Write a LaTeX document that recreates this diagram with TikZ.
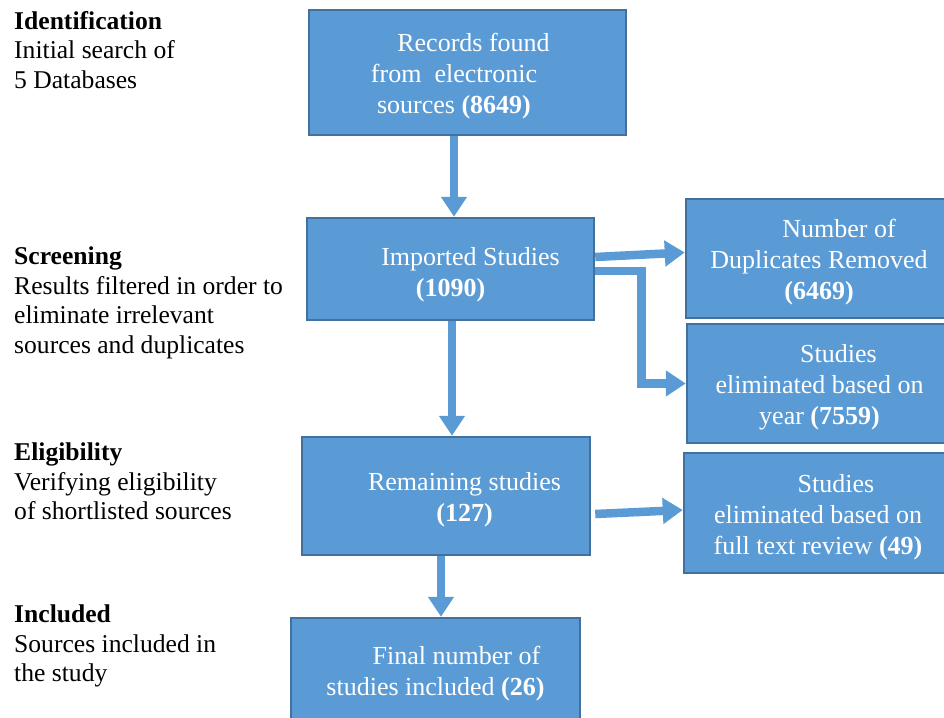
\documentclass[tikz,border=0pt]{standalone}
\usepackage{fontspec}
\setmainfont{Liberation Serif}
\usetikzlibrary{arrows.meta,calc}
\definecolor{boxfill}{HTML}{5B9BD5}
\definecolor{boxline}{HTML}{41719C}
% #1 left pad, #2 right pad, #3 extra top (moves text down by half), #4 lines
\newcommand\bxt[4]{\hspace*{#1}\raisebox{0pt}[\dimexpr\height+#3\relax][\depth]{\begin{tabular}{@{}c@{}}#4\end{tabular}}\hspace*{#2}}
\tikzset{
  box/.style={draw=boxline, line width=2.5pt, fill=boxfill, text=white,
    inner sep=0pt, font=\fontsize{26}{31}\selectfont},
  arr/.style={draw=boxfill, line width=8.5pt, -{Triangle[width=25pt,length=20pt]}},
  side/.style={anchor=north west, align=left, inner sep=0pt, font=\fontsize{25.6}{29.5}\selectfont}
}
\begin{document}
\begin{tikzpicture}[x=1pt,y=-1pt]
\useasboundingbox (0,0) rectangle (944,717);
% boxes
\node[box, minimum width=317pt, minimum height=125pt] (rec) at (467.5,72.5)
  {\bxt{0pt}{27pt}{8pt}{\hspace*{39pt}Records found\\from\ \ electronic\\sources \textbf{(8649)}}};
\node[box, minimum width=287pt, minimum height=102pt] (imp) at (450.5,269)
  {\bxt{0pt}{0pt}{12pt}{\hspace*{40pt}Imported Studies\\\textbf{(1090)}}};
\node[box, minimum width=266pt, minimum height=119pt] (dup) at (819,258.5)
  {\bxt{0pt}{0pt}{8pt}{\hspace*{40pt}Number of\\Duplicates Removed\\\textbf{(6469)}}};
\node[box, minimum width=265pt, minimum height=119pt] (yr) at (819.5,383.5)
  {\bxt{0pt}{0pt}{7pt}{\hspace*{38pt}Studies\\eliminated based on\\year \textbf{(7559)}}};
\node[box, minimum width=288pt, minimum height=118pt] (rem) at (446,496)
  {\bxt{37pt}{0pt}{8pt}{Remaining studies\\\textbf{(127)}}};
\node[box, minimum width=268pt, minimum height=120pt] (ft) at (818,513)
  {\bxt{0pt}{0pt}{9pt}{\hspace*{36pt}Studies\\eliminated based on\\full text review \textbf{(49)}}};
\node[box, minimum width=289pt, minimum height=107pt] (fin) at (435.5,671.5)
  {\bxt{0pt}{0pt}{4pt}{\hspace*{42pt}Final number of\\studies included \textbf{(26)}}};
% side labels
\node[side] (lid) at (14,11) {\textbf{Identification}\\Initial search of\\5 Databases};
\node[side] (lscr) at (14,247) {\textbf{Screening}\\Results filtered in order to\\eliminate irrelevant\\sources and duplicates};
\node[side] (lel) at (14,443) {\textbf{Eligibility}\\Verifying eligibility\\of shortlisted sources};
\node[side] (linc) at (14,605) {\textbf{Included}\\Sources included in\\the study};
% arrows
\draw[arr] ($(rec.south)+(-13.5,0)$) -- ($(imp.north)+(3.5,0)$);
\draw[arr] ($(imp.east)+(0,-12)$) -- ($(dup.west)+(0,-6)$);
\draw[arr] ($(imp.east)+(0,2)$) -- ++(46,0) |- (yr.west);
\draw[arr] ($(imp.south)+(1.5,0)$) -- ($(rem.north)+(6,0)$);
\draw[arr] ($(rem.east)+(4,18)$) -- ($(ft.west)+(0,-3)$);
\draw[arr] ($(rem.south)+(-5,0)$) -- ($(fin.north)+(5.5,0)$);
\end{tikzpicture}
\end{document}
